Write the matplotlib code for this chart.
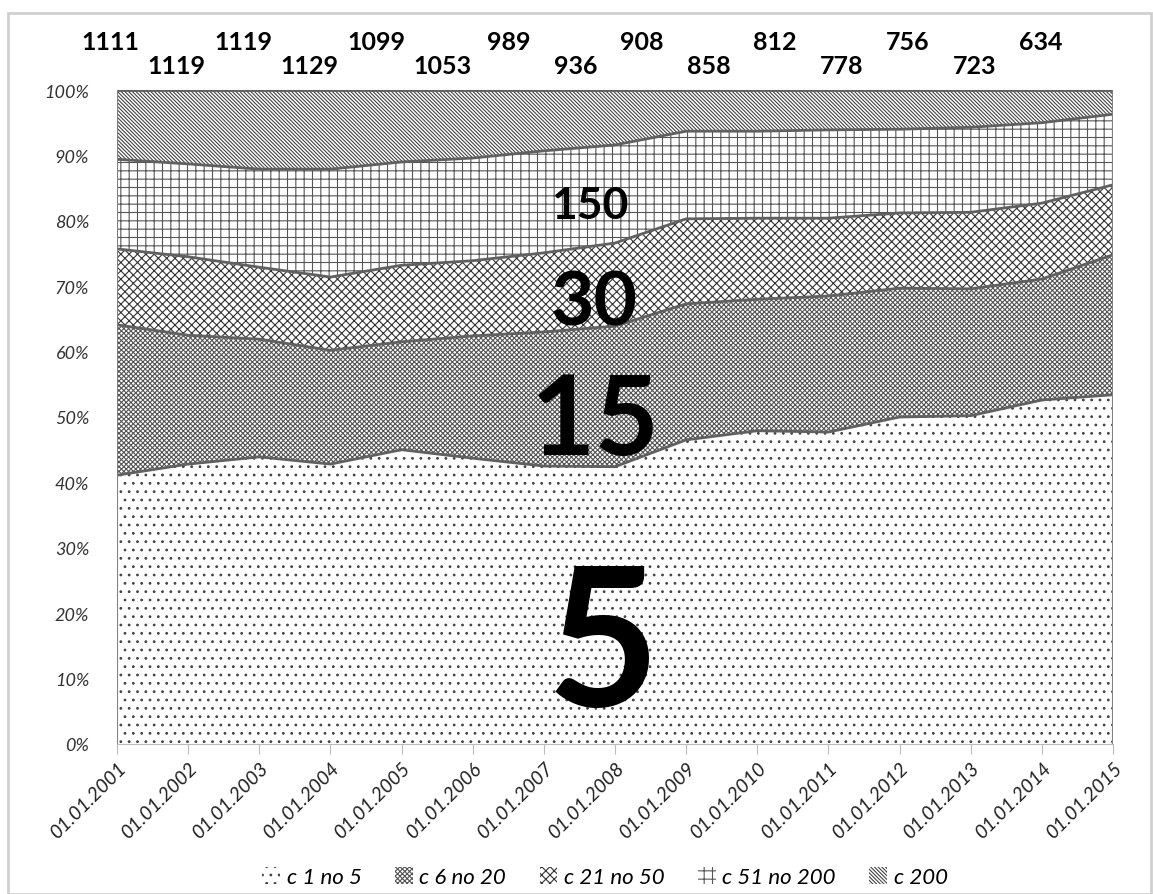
import matplotlib.pyplot as plt
import matplotlib.patches as mpatches
import numpy as np

plt.rcParams['font.family'] = ['Lato', 'DejaVu Sans']
plt.rcParams['hatch.linewidth'] = 0.8

dates = ['01.01.2001', '01.01.2002', '01.01.2003', '01.01.2004', '01.01.2005',
         '01.01.2006', '01.01.2007', '01.01.2008', '01.01.2009', '01.01.2010',
         '01.01.2011', '01.01.2012', '01.01.2013', '01.01.2014', '01.01.2015']
totals = [1111, 1119, 1119, 1129, 1099, 1053, 989, 936, 908, 858, 812, 778, 756, 723, 634]

# shares in %
s1_5 = [41.1, 42.8, 43.9, 42.8, 45.0, 43.7, 42.5, 42.4, 46.5, 47.9, 47.7, 50.0, 50.2, 52.6, 53.4]
s6_20 = [23.0, 19.7, 18.0, 17.4, 16.5, 18.7, 20.5, 21.5, 20.8, 20.1, 20.8, 19.7, 19.4, 18.5, 21.4]
s21_50 = [11.6, 12.0, 11.0, 11.2, 11.7, 11.5, 12.1, 12.7, 13.0, 12.4, 11.9, 11.5, 11.7, 11.6, 10.7]
s51_200 = [13.7, 14.2, 15.0, 16.5, 15.8, 15.7, 15.6, 15.0, 13.4, 13.3, 13.5, 12.8, 13.0, 12.3, 10.8]
s200 = [100 - a - b - c - d for a, b, c, d in zip(s1_5, s6_20, s21_50, s51_200)]

labels = ['с 1 по 5', 'с 6 по 20', 'с 21 по 50', 'с 51 по 200', 'с 200']
hatches = ['..', 'xxxxxxx', 'xxxx', '++', '\\' * 9]
hcolors = ['#444444', '#555555', '#333333', '#555555', '#444444']
big = ['5', '15', '30', '150']

fig = plt.figure(figsize=(11.53, 8.95), dpi=100)
fig.patches.append(mpatches.Rectangle((8 / 1153, 0.0), 1 - 8 / 1153 - 0.002, 1 - 14 / 895,
                                      transform=fig.transFigure, fill=False,
                                      edgecolor='#d0d0d0', linewidth=2))
ax = fig.add_axes([117 / 1153, 150 / 895, 996 / 1153, 654 / 895])

x = np.arange(len(dates))
series = [s1_5, s6_20, s21_50, s51_200, s200]
bottom = np.zeros(len(x))
handles = []
for vals, h, hc, lab in zip(series, hatches, hcolors, labels):
    top = bottom + np.array(vals)
    ax.fill_between(x, bottom, top, facecolor='white', edgecolor=hc, hatch=h, linewidth=0)
    ax.plot(x, top, color='#606060', linewidth=2)
    handles.append(mpatches.Patch(facecolor='white', edgecolor=hc, hatch=h, linewidth=0, label=lab))
    bottom = top
ax.plot([0, 0], [0, 100], color='#808080', linewidth=1.5)
ax.plot([x[-1], x[-1]], [0, 100], color='#808080', linewidth=1.5)

ax.set_xlim(0, len(x) - 1)
ax.set_ylim(0, 100)
ax.set_yticks(np.arange(0, 101, 10))
ax.set_yticklabels([f'{v}%' for v in range(0, 101, 10)], fontsize=13, style='italic', color='#333333')
ax.set_xticks(x)
ax.set_xticklabels(dates, rotation=45, ha='right', rotation_mode='anchor',
                   fontsize=14, style='italic', color='#222222')
ax.tick_params(axis='y', length=0, pad=20)
ax.tick_params(axis='x', length=7, color='#bbbbbb', pad=4)
for s in ['top', 'right', 'left']:
    ax.spines[s].set_visible(False)
ax.spines['bottom'].set_color('#bbbbbb')

# totals above the chart, alternating rows
for i, t in enumerate(totals):
    xf = (110 + i * 66.5) / 1153
    yf = 1 - (43 if i % 2 == 0 else 66) / 895
    fig.text(xf, yf, str(t), ha='center', va='center', fontsize=18, fontweight='bold')

# big size-class labels
ax.text(6.83, 14.5, big[0], ha='center', va='center', fontsize=140, fontweight='bold')
ax.text(6.72, 49.3, big[1], ha='center', va='center', fontsize=80, fontweight='bold')
ax.text(6.71, 67.4, big[2], ha='center', va='center', fontsize=54, fontweight='bold')
ax.text(6.64, 82.4, big[3], ha='center', va='center', fontsize=32, fontweight='bold')

fig.legend(handles=handles, loc='center', bbox_to_anchor=(605 / 1153, 1 - 878 / 895), ncol=5,
           frameon=False, prop={'style': 'italic', 'size': 16},
           handlelength=0.8, handleheight=0.8, handletextpad=0.3, columnspacing=1.5)

fig.savefig('out.png', dpi=100)
